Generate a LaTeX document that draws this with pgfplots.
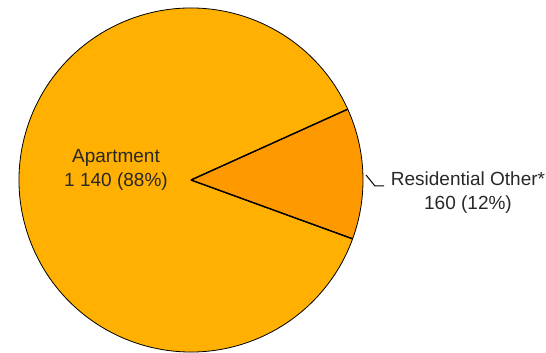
\documentclass[border=0pt]{standalone}
\usepackage{pgfplots}
\pgfplotsset{compat=1.18}
\usepackage{pgfplotstable}
\usepackage{fontspec}
\setmainfont{Liberation Sans}
\definecolor{apt}{RGB}{255,176,0}
\definecolor{oth}{RGB}{255,153,0}
\definecolor{txt}{RGB}{40,40,40}
\pgfplotstableread{
label value
Apartment 1140
Other 160
}\piedata
\begin{document}
\begin{tikzpicture}
\pgfplotstablegetelem{0}{value}\of\piedata \let\va\pgfplotsretval
\pgfplotstablegetelem{1}{value}\of\piedata \let\vb\pgfplotsretval
\pgfmathsetmacro\tot{\va+\vb}
\pgfmathsetmacro\frac{\vb/\tot}
\pgfmathsetmacro\startang{-20}
\pgfmathsetmacro\midang{\startang+360*\frac}
\pgfmathsetmacro\endang{\startang+360}
\begin{axis}[scale only axis, width=546pt, height=353pt,
  xmin=0, xmax=546, ymin=0, ymax=353, hide axis, clip=false]
\filldraw[fill=apt, draw=black, line width=0.8pt, line join=round]
  (axis cs:191,173) -- +(\midang:172pt) arc[start angle=\midang, end angle=\endang, radius=172pt] -- cycle;
\filldraw[fill=oth, draw=black, line width=0.8pt, line join=round]
  (axis cs:191,173) -- +(\startang:172pt) arc[start angle=\startang, end angle=\midang, radius=172pt] -- cycle;
\draw[line width=1.4pt] (axis cs:191,173) -- +(\startang:172pt);
\draw[line width=1.4pt] (axis cs:191,173) -- +(\midang:172pt);
\node[align=center, text=txt, font=\fontsize{19}{24}\selectfont] at (axis cs:116,183) {Apartment\\1 140 (88\%)};
\node[align=center, text=txt, font=\fontsize{19}{24}\selectfont] at (axis cs:468,160) {Residential Other*\\160 (12\%)};
\draw[line width=1pt, black] (axis cs:366,178) -- (axis cs:375,167) -- (axis cs:384,167);
\end{axis}
\pgfresetboundingbox
\path (0,0) rectangle (546pt,353pt);
\end{tikzpicture}
\end{document}
